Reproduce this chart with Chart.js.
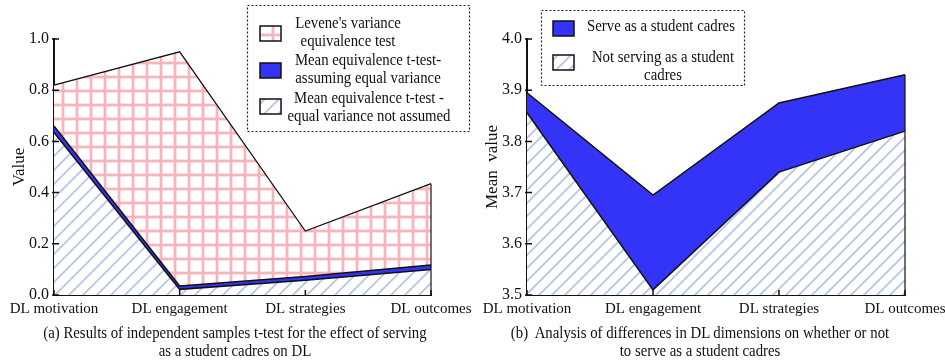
<!DOCTYPE html>
<html>
<head>
<meta charset="utf-8">
<script src="https://cdn.jsdelivr.net/npm/chart.js@4.4.0/dist/chart.umd.min.js"></script>
<style>
  body { margin:0; background:#fff; width:945px; height:360px; position:relative; overflow:hidden; font-family:"Liberation Serif", serif; }
  .box { position:absolute; top:0; height:326px; }
  #boxA { left:0; width:480px; }
  #boxB { left:470px; width:475px; }
  .cap { position:absolute; top:324px; font-size:17px; line-height:17.5px; color:#111; text-align:center; white-space:nowrap; transform:scaleX(0.87); }
  #capA { left:0; width:470px; }
  #capB { left:465px; width:470px; }
</style>
</head>
<body>
<div class="box" id="boxB"><canvas id="chartB" width="475" height="326"></canvas></div>
<div class="box" id="boxA"><canvas id="chartA" width="480" height="326"></canvas></div>
<div class="cap" id="capA">(a) Results of independent samples t-test for the effect of serving<br>as a student cadres on DL</div>
<div class="cap" id="capB">(b)&nbsp; Analysis of differences in DL dimensions on whether or not<br>to serve as a student cadres</div>
<script>
//Kategorier och värden
var dims = ["DL motivation", "DL engagement", "DL strategies", "DL outcomes"];
var leveneTest = [0.82, 0.95, 0.25, 0.435];
var equalAssumed = [0.66, 0.035, 0.072, 0.117];
var equalNotAssumed = [0.635, 0.022, 0.058, 0.10];
var serveCadre = [3.895, 3.695, 3.875, 3.93];
var notServeCadre = [3.856, 3.51, 3.74, 3.82];
//Ticks
var ticksA = [0, 0.2, 0.4, 0.6, 0.8, 1.0];
var ticksB = [3.5, 3.6, 3.7, 3.8, 3.9, 4.0];
//Legendtexter
var legendA = [
    ["Levene's variance", "equivalence test"],
    ["Mean equivalence t-test-", "assuming equal variance"],
    ["Mean equivalence t-test -", "equal variance not assumed"]
];
var legendB = [
    ["Serve as a student cadres"],
    ["Not serving as a student", "cadres"]
];

var serif = "Liberation Serif";
var ink = "#111";
var blue = "#3434f8";

//Mönster
function gridPattern(ctx) {
    var c = document.createElement("canvas");
    c.width = 14; c.height = 14;
    var g = c.getContext("2d");
    g.fillStyle = "#fff"; g.fillRect(0, 0, 14, 14);
    g.fillStyle = "rgba(250,185,192,0.4)";
    g.fillRect(5, 0, 4, 14); g.fillRect(0, 5, 14, 4);
    g.fillStyle = "#f9b4bb";
    g.fillRect(6, 0, 2, 14); g.fillRect(0, 6, 14, 2);
    return ctx.createPattern(c, "repeat");
}
function hatchPattern(ctx, s) {
    var c = document.createElement("canvas");
    c.width = s; c.height = s;
    var g = c.getContext("2d");
    g.fillStyle = "#fff"; g.fillRect(0, 0, s, s);
    g.strokeStyle = "#b0c6e6"; g.lineWidth = 1.7;
    g.beginPath();
    g.moveTo(-1, s + 1); g.lineTo(s + 1, -1);
    g.moveTo(-s / 2 - 1, s / 2 + 1); g.lineTo(s / 2 + 1, -s / 2 - 1);
    g.moveTo(s / 2 - 1, 1.5 * s + 1); g.lineTo(1.5 * s + 1, s / 2 - 1);
    g.stroke();
    return ctx.createPattern(c, "repeat");
}

//Tickmarkeringar inåt + högerkant på ytorna
var frame = {
    id: "frame",
    afterDraw: function (chart) {
        var ctx = chart.ctx, a = chart.chartArea, x = chart.scales.x, y = chart.scales.y;
        ctx.save();
        ctx.strokeStyle = ink;
        ctx.lineWidth = 1.5;
        ctx.beginPath();
        y.ticks.forEach(function (t) {
            var py = y.getPixelForValue(t.value);
            ctx.moveTo(a.left - 2, py); ctx.lineTo(a.left + 5, py);
        });
        x.ticks.forEach(function (t, i) {
            var px = x.getPixelForTick(i);
            ctx.moveTo(px, a.bottom); ctx.lineTo(px, a.bottom - 5);
        });
        ctx.stroke();
        var lastIdx = dims.length - 1;
        var top = Math.max.apply(null, chart.data.datasets.map(function (d) { return d.data[lastIdx]; }));
        var xr = x.getPixelForValue(lastIdx);
        ctx.lineWidth = 1.2;
        ctx.beginPath();
        ctx.moveTo(xr, y.getPixelForValue(top)); ctx.lineTo(xr, a.bottom);
        ctx.stroke();
        ctx.restore();
    }
};

//Legend i streckad ruta
var boxLegend = {
    id: "boxLegend",
    afterDraw: function (chart, args, o) {
        var ctx = chart.ctx;
        ctx.save();
        ctx.fillStyle = "#fff";
        ctx.fillRect(o.x, o.y, o.w, o.h);
        ctx.setLineDash([2, 2]);
        ctx.lineWidth = 1.2;
        ctx.strokeStyle = "#222";
        ctx.strokeRect(o.x + 0.5, o.y + 0.5, o.w, o.h);
        ctx.setLineDash([]);
        o.items.forEach(function (it) {
            var ds = chart.data.datasets[it.ds];
            ctx.fillStyle = ds.backgroundColor;
            ctx.fillRect(o.sx, it.sy, 21, 15);
            ctx.lineWidth = 1.5;
            ctx.strokeStyle = ink;
            ctx.strokeRect(o.sx, it.sy, 21, 15);
            ctx.fillStyle = ink;
            ctx.font = "17px '" + serif + "'";
            ctx.textAlign = "center";
            ctx.textBaseline = "middle";
            ds.legendLines.forEach(function (line, k) {
                ctx.save();
                ctx.translate(it.cx, it.ty + k * 17.5);
                ctx.scale(0.87, 1);
                ctx.fillText(line, 0, 0);
                ctx.restore();
            });
        });
        ctx.restore();
    }
};

function axes(min, max, ticks, title, yWidth, titlePad) {
    return {
        x: {
            type: "category", offset: false, z: 1,
            grid: {display: false, drawTicks: false},
            border: {display: true, color: ink, width: 2},
            ticks: {color: ink, font: {family: serif, size: 15}, padding: 5, maxRotation: 0, autoSkip: false},
            afterFit: function (s) { s.paddingLeft = 0; s.paddingRight = 0; }
        },
        y: {
            min: min, max: max, z: 1,
            grid: {display: false, drawTicks: false},
            border: {display: true, color: ink, width: 2},
            afterBuildTicks: function (s) { s.ticks = ticks.map(function (v) { return {value: v}; }); },
            ticks: {color: ink, font: {family: serif, size: 16}, padding: 5, callback: function (v) { return Number(v).toFixed(1); }},
            title: {display: true, text: title, color: ink, font: {family: serif, size: 17}, padding: {top: titlePad, bottom: 0}},
            afterFit: function (s) { s.width = yWidth; }
        }
    };
}

function line(label, data, bg, lines, bw) {
    return {
        label: label, data: data, legendLines: lines,
        backgroundColor: bg, borderColor: ink, borderWidth: bw,
        fill: "start", tension: 0, pointRadius: 0
    };
}

var ctxA = document.getElementById("chartA").getContext("2d");
new Chart(ctxA, {
    type: "line",
    data: {
        labels: dims,
        datasets: [
            line("Mean equivalence t-test - equal variance not assumed", equalNotAssumed, hatchPattern(ctxA, 14), legendA[2], 1.5),
            line("Mean equivalence t-test-assuming equal variance", equalAssumed, blue, legendA[1], 1.5),
            line("Levene's variance equivalence test", leveneTest, gridPattern(ctxA), legendA[0], 1.2)
        ]
    },
    options: {
        responsive: false, animation: false,
        layout: {padding: {top: 39, right: 49, bottom: 3, left: 0}},
        scales: axes(0, 1, ticksA, "Value", 54, 9),
        plugins: {
            legend: {display: false}, tooltip: {enabled: false},
            boxLegend: {x: 247, y: 5, w: 222, h: 126, sx: 260, items: [
                {ds: 2, sy: 26, cx: 348, ty: 24},
                {ds: 1, sy: 63, cx: 368, ty: 61},
                {ds: 0, sy: 99, cx: 369, ty: 99}
            ]}
        }
    },
    plugins: [frame, boxLegend]
});

var ctxB = document.getElementById("chartB").getContext("2d");
new Chart(ctxB, {
    type: "line",
    data: {
        labels: dims,
        datasets: [
            line("Not serving as a student cadres", notServeCadre, hatchPattern(ctxB, 13), legendB[1], 1.5),
            line("Serve as a student cadres", serveCadre, blue, legendB[0], 1.5)
        ]
    },
    options: {
        responsive: false, animation: false,
        layout: {padding: {top: 39, right: 40, bottom: 3, left: 0}},
        scales: axes(3.5, 4.0, ticksB, "Mean  value", 57, 12),
        plugins: {
            legend: {display: false}, tooltip: {enabled: false},
            boxLegend: {x: 71, y: 10, w: 203, h: 75, sx: 83, items: [
                {ds: 1, sy: 21, cx: 191, ty: 27},
                {ds: 0, sy: 55, cx: 193, ty: 58}
            ]}
        }
    },
    plugins: [frame, boxLegend]
});
</script>
</body>
</html>
